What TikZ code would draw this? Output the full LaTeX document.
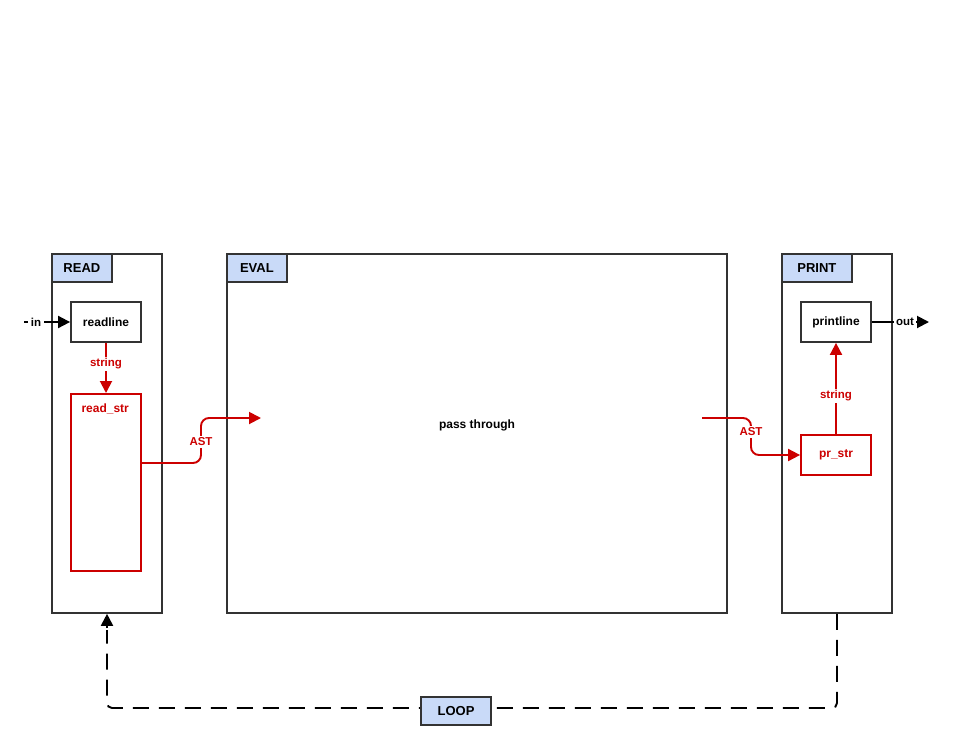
\documentclass[tikz,border=0pt]{standalone}
\usepackage{fontspec}
\setmainfont{Liberation Sans}
\usetikzlibrary{arrows.meta}
\definecolor{tabfill}{HTML}{C9DAF8}
\definecolor{redc}{HTML}{CC0000}
\definecolor{edge}{HTML}{333333}
\tikzset{
  container/.style={draw=edge, line width=1.8pt, fill=white, anchor=north west, inner sep=0pt},
  tab/.style={draw=edge, line width=1.8pt, fill=tabfill, anchor=north west, inner sep=0pt, font=\fontsize{13}{15}\selectfont\bfseries},
  blk/.style={draw=edge, line width=1.8pt, fill=white, minimum width=70pt, minimum height=40pt, inner sep=0pt, font=\fontsize{12}{14}\selectfont\bfseries},
  redblk/.style={draw=redc, line width=1.8pt, fill=white, minimum width=70pt, inner sep=0pt, text=redc, font=\fontsize{12}{14}\selectfont\bfseries},
  redarrow/.style={draw=redc, line width=1.9pt, -{Triangle[length=12pt,width=12pt]}},
  redlbl/.style={fill=white, text=redc, inner sep=1.5pt, font=\fontsize{11.5}{13}\selectfont\bfseries},
  blklbl/.style={fill=white, text=black, inner sep=2.5pt, font=\fontsize{11.5}{13}\selectfont\bfseries},
  blkarrow/.style={draw=black, line width=1.9pt, -{Triangle[length=12pt,width=12pt]}},
  loopline/.style={draw=black, line width=1.9pt, dash pattern=on 16pt off 10pt, rounded corners=5pt}
}
\begin{document}
\begin{tikzpicture}[x=1pt,y=-1pt]
\useasboundingbox (0,0) rectangle (979,745);
% containers
\node[container, minimum width=110pt, minimum height=359pt] (readc) at (51,253) {};
\node[container, minimum width=500pt, minimum height=359pt] (evalc) at (226,253) {};
\node[container, minimum width=110pt, minimum height=359pt] (printc) at (781,253) {};
\node[tab, minimum width=60pt, minimum height=28pt] (readt) at (51,253) {READ};
\node[tab, minimum width=60pt, minimum height=28pt] (evalt) at (226,253) {EVAL};
\node[tab, minimum width=70pt, minimum height=28pt] (printt) at (781,253) {PRINT};
% inner blocks
\node[blk] (readline) at (106,322) {readline};
\node[redblk, minimum height=177pt, anchor=north] (readstr) at (106,393) {};
\node[text=redc, font=\fontsize{12}{14}\selectfont\bfseries, anchor=north west] (readstrlbl) at (78,400) {read\_str};
\node[blk] (printline) at (836,322) {printline};
\node[redblk, minimum height=40pt] (prstr) at (836,455) {pr\_str};
\node[font=\fontsize{12}{14}\selectfont\bfseries] (pass) at (477,425) {pass through};
% in / out
\coordinate (inS) at (24,322);
\coordinate (outE) at (929,322);
\draw[blkarrow] (inS) -- (readline.west);
\node[blklbl] (inl) at (36,322) {in};
\draw[blkarrow] (printline.east) -- (outE);
\node[blklbl] (outl) at (905,322) {out};
% red arrows
\draw[redarrow] (readline.south) -- (readstr.north);
\node[redlbl] (s1) at (106,364) {string};
\coordinate (ast1) at (261,418);
\draw[redarrow, rounded corners=8pt] (readstr.east |- 0,463) -- (201,463) -- (201,418) -- (ast1);
\node[redlbl] (a1) at (201,442) {AST};
\coordinate (ast2) at (702,418);
\draw[redarrow, rounded corners=8pt] (ast2) -- (751,418) -- (751,455) -- (prstr.west);
\node[redlbl] (a2) at (751,432) {AST};
\draw[redarrow] (prstr.north) -- (printline.south);
\node[redlbl] (s2) at (836,396) {string};
% loop
\draw[loopline] (printc.south -| 837,0) -- (837,708) -- (107,708) -- (107,630);
\draw[draw=black, line width=1.9pt, -{Triangle[length=12pt,width=12pt]}] (107,628) -- (readc.south -| 107,0);
\node[tab, anchor=center, minimum width=70pt, minimum height=28pt] (loop) at (456,711) {LOOP};
\end{tikzpicture}
\end{document}
